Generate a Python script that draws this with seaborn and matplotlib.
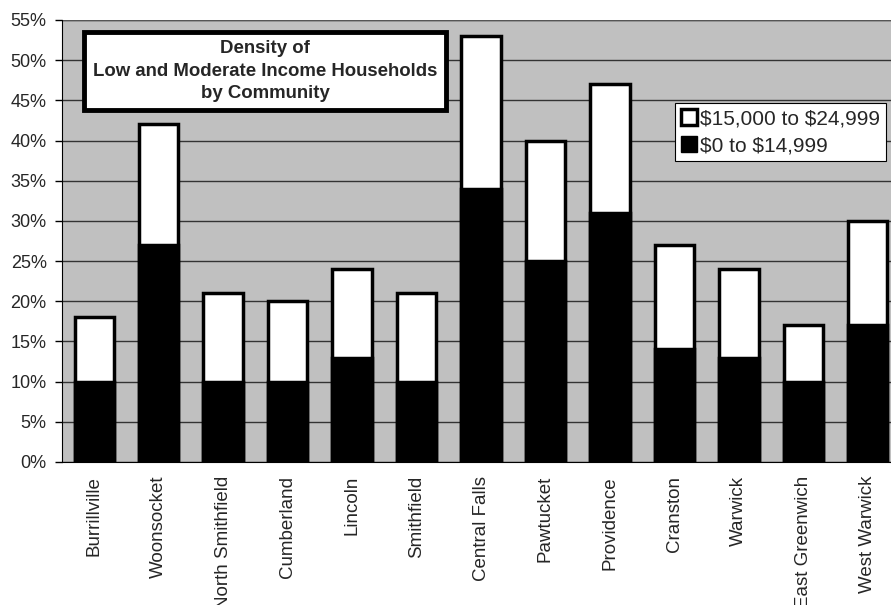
import numpy as np
import pandas as pd
import matplotlib
matplotlib.use('Agg')
import matplotlib.pyplot as plt
import seaborn as sns
from matplotlib.patches import Patch
from matplotlib.ticker import FuncFormatter

# data (percent of households)
comunidades = ['Burrillville', 'Woonsocket', 'North Smithfield', 'Cumberland', 'Lincoln',
               'Smithfield', 'Central Falls', 'Pawtucket', 'Providence', 'Cranston',
               'Warwick', 'East Greenwich', 'West Warwick']
renda_baixa = [10, 27, 10, 10, 13, 10, 34, 25, 31, 14, 13, 10, 17]   # $0 to $14,999
renda_total = [18, 42, 21, 20, 24, 21, 53, 40, 47, 27, 24, 17, 30]   # up to $24,999

dados = pd.DataFrame({'Comunidade': comunidades,
                      'Baixa': renda_baixa,
                      'Total': renda_total})

sns.set_style('white')
plt.rcParams['font.family'] = ['Liberation Sans', 'DejaVu Sans']

fig = plt.figure(figsize=(8.91, 6.05), dpi=100)
ax = fig.add_axes([62 / 891, 143 / 605, 838 / 891, 442 / 605])
ax.set_facecolor('#c0c0c0')

# white (upper) part drawn as full height, black part overlaid
sns.barplot(data=dados, x='Comunidade', y='Total', color='white', width=0.61,
            edgecolor='black', linewidth=2.5, saturation=1, ax=ax, zorder=3)
sns.barplot(data=dados, x='Comunidade', y='Baixa', color='black', width=0.61,
            edgecolor='black', linewidth=2.5, saturation=1, ax=ax, zorder=4)

ax.set_ylim(0, 55)
ax.set_xlim(-0.5, len(comunidades) - 0.5)
ax.set_yticks(np.arange(0, 56, 5))
ax.yaxis.set_major_formatter(FuncFormatter(lambda v, p: f'{int(v)}%'))
ax.grid(axis='y', color='#333333', linewidth=1, zorder=1)
ax.set_axisbelow(True)

ax.set_xticks(np.arange(len(comunidades)))
ax.set_xticklabels(comunidades, rotation=90, fontsize=13.5, va='top')
ax.tick_params(axis='x', length=0, pad=10)
ax.set_xticks(np.arange(len(comunidades)) - 0.5, minor=True)
ax.tick_params(axis='x', which='minor', length=5, width=1, color='black', direction='out')
ax.tick_params(axis='y', labelsize=13, length=5, width=1, color='black', direction='out',
               left=True, pad=6)
ax.set_xlabel('')
ax.set_ylabel('')

for lado in ['top', 'right']:
    ax.spines[lado].set_visible(False)
ax.spines['left'].set_color('black')
ax.spines['bottom'].set_color('black')
ax.axhline(55, color='#555555', linewidth=1, zorder=2)

fig.text(265 / 891, 1 - 71 / 605,
         'Density of\nLow and Moderate Income Households\nby Community',
         ha='center', va='center', fontsize=13.4, fontweight='bold', linespacing=1.42,
         bbox=dict(boxstyle='square,pad=0.45', facecolor='white', edgecolor='black', linewidth=3.5))

marcas = [Patch(facecolor='white', edgecolor='black', linewidth=2.5, label=r'\$15,000 to \$24,999'),
          Patch(facecolor='black', edgecolor='black', label=r'\$0 to \$14,999')]
leg = ax.legend(handles=marcas, loc='upper left', bbox_to_anchor=(675 / 891, 1 - 103 / 605),
                bbox_transform=fig.transFigure, fontsize=15, frameon=True, fancybox=False,
                handlelength=0.75, handleheight=0.75, handletextpad=0.15, borderpad=0.3,
                labelspacing=0.38, borderaxespad=0)
leg.get_frame().set_edgecolor('black')
leg.get_frame().set_linewidth(0.8)
leg.get_frame().set_alpha(1)

plt.savefig('out.png', dpi=100)
